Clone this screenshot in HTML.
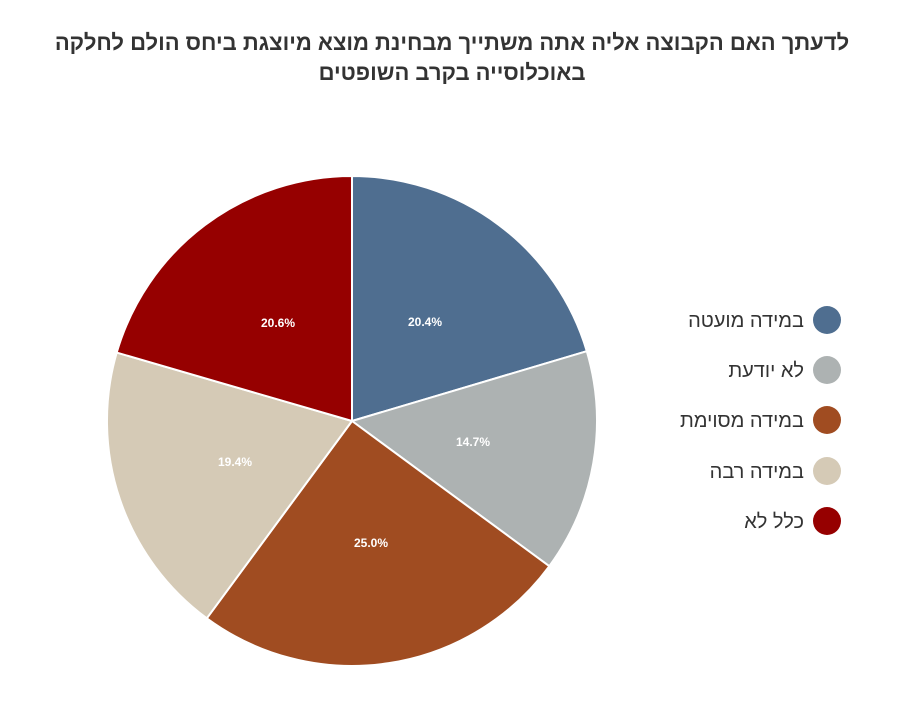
<!DOCTYPE html>
<html><head><meta charset="utf-8"><style>
body{margin:0;background:#fff;width:900px;height:700px;overflow:hidden;font-family:"Liberation Sans",sans-serif}
</style></head><body>
<svg width="900" height="700" xmlns="http://www.w3.org/2000/svg">
<g font-family="Liberation Sans, sans-serif" font-weight="bold" font-size="22" fill="#333" text-anchor="middle" direction="rtl">
<text x="452" y="50">לדעתך האם הקבוצה אליה אתה משתייך מבחינת מוצא מיוצגת ביחס הולם לחלקה</text>
<text x="452" y="80">באוכלוסייה בקרב השופטים</text>
</g>
<g stroke="#fff" stroke-width="2" stroke-linejoin="round">
<path d="M352,421 L352,176 A245,245 0 0 1 586.8,351.2 Z" fill="#4f6e90"/>
<path d="M352,421 L586.8,351.2 A245,245 0 0 1 549.3,566.2 Z" fill="#adb2b2"/>
<path d="M352,421 L549.3,566.2 A245,245 0 0 1 206.8,618.3 Z" fill="#a04c21"/>
<path d="M352,421 L206.8,618.3 A245,245 0 0 1 116.7,352.6 Z" fill="#d5cab6"/>
<path d="M352,421 L116.7,352.6 A245,245 0 0 1 352,176 Z" fill="#960000"/>
</g>
<g font-family="Liberation Sans, sans-serif" font-weight="bold" font-size="12" fill="#fff" text-anchor="middle">
<text x="425" y="326">20.4%</text>
<text x="473" y="446">14.7%</text>
<text x="371" y="547">25.0%</text>
<text x="235" y="466">19.4%</text>
<text x="278" y="327">20.6%</text>
</g>
<circle cx="827" cy="320" r="14" fill="#4f6e90"/>
<circle cx="827" cy="370" r="14" fill="#adb2b2"/>
<circle cx="827" cy="420" r="14" fill="#a04c21"/>
<circle cx="827" cy="471" r="14" fill="#d5cab6"/>
<circle cx="827" cy="521" r="14" fill="#960000"/>
<g font-family="Liberation Sans, sans-serif" font-size="20" fill="#333" text-anchor="start" direction="rtl">
<text x="804" y="327">במידה מועטה</text>
<text x="804" y="377">לא יודעת</text>
<text x="804" y="427">במידה מסוימת</text>
<text x="804" y="478">במידה רבה</text>
<text x="804" y="528">כלל לא</text>
</g>
</svg>
</body></html>
